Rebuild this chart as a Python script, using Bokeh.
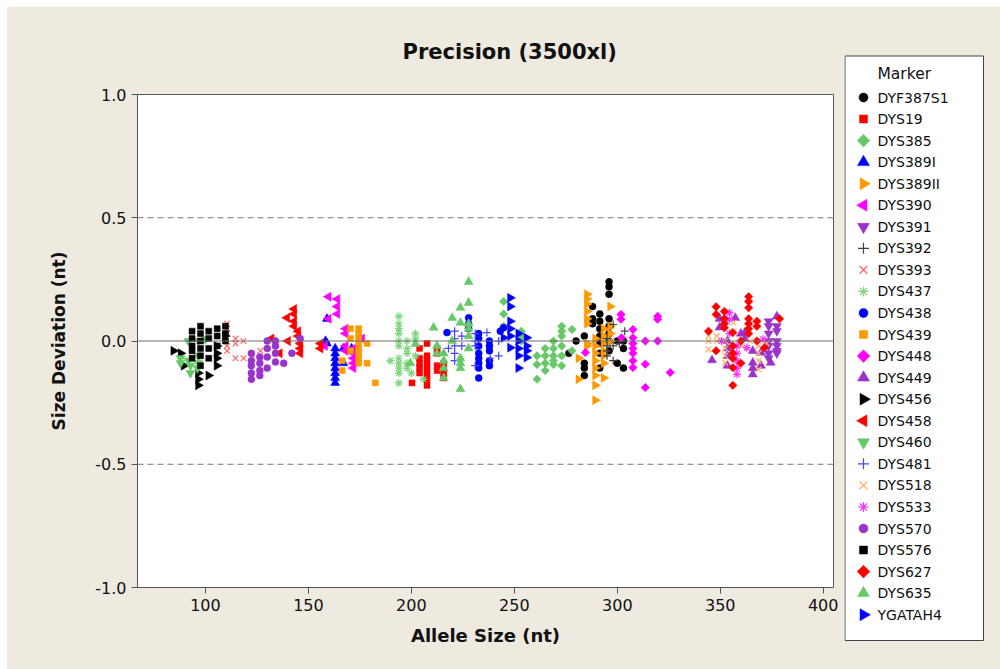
import math
from bokeh.plotting import figure
from bokeh.layouts import row
from bokeh.models import Span, FixedTicker, Title, ColumnDataSource, Range1d
from bokeh.core.properties import value
from bokeh.embed import file_html
from bokeh.resources import INLINE

# Allele size (nt) and size deviation (nt) per Y-STR marker
DYF387S1_x = [276.5, 280, 284, 284, 284, 284, 288, 288, 288, 291.5, 291.5, 291.5, 291.5, 291.5, 291.5, 291.5,
              296, 296, 296, 296, 296, 296, 296, 296, 300, 300, 303, 303, 303]
DYF387S1_y = [-0.05, 0.0, 0.02, -0.09, -0.11, -0.14, 0.14, 0.09, 0.07, 0.11, 0.08, 0.05, 0.02, -0.01, -0.05, -0.11,
              0.24, 0.22, 0.19, 0.09, 0.06, 0.03, 0.0, -0.04, 0.0, -0.09, 0.0, -0.03, -0.11]

DYS19_x = [200.3, 204, 204, 204, 204, 204, 207.6, 207.6, 207.6, 207.6, 207.6, 207.6, 207.6, 207.6,
           212.5, 212.5, 212.5, 212.5, 215.7, 215.7, 215.7, 215.7]
DYS19_y = [-0.17, -0.03, -0.07, -0.09, -0.11, -0.13, -0.01, -0.06, -0.08, -0.10, -0.12, -0.14, -0.16, -0.18,
           -0.03, -0.05, -0.10, -0.12, -0.09, -0.11, -0.13, -0.15]

DYS385_x = [244.8, 244.8, 244.8, 253.4, 253.4, 253.4, 261, 261, 261, 265, 265, 265, 265,
            269, 269, 269, 269, 269, 273, 273, 273, 273, 273, 273, 278, 278]
DYS385_y = [0.16, 0.11, 0.06, 0.04, 0.02, 0.0, -0.06, -0.095, -0.155, -0.03, -0.06, -0.09, -0.12,
            0.0, -0.03, -0.06, -0.08, -0.095, 0.06, 0.04, 0.02, -0.02, -0.06, -0.10, 0.047, -0.04]

DYS389I_x = [158.3, 159, 159, 163, 163, 163, 163, 163, 163, 163, 163, 167, 167, 171]
DYS389I_y = [0.0, 0.09, -0.01, -0.03, -0.05, -0.07, -0.09, -0.11, -0.13, -0.15, -0.17, -0.03, -0.09, -0.03]

DYS389II_x = [285.3, 285.3, 285.3, 285.3, 285.3, 285.3, 285.3, 285.3, 281.2, 281.2,
              289.3, 289.3, 289.3, 289.3, 289.3, 289.3, 289.3, 289.3,
              293.4, 293.4, 293.4, 293.4, 293.4, 293.4, 293.4, 296.6, 296.6, 296.6, 296.6]
DYS389II_y = [0.19, 0.17, 0.15, 0.12, 0.09, 0.07, -0.01, -0.02, -0.07, -0.155,
              0.01, -0.02, -0.05, -0.08, -0.11, -0.14, -0.18, -0.24,
              0.05, 0.02, -0.01, -0.04, -0.06, -0.09, -0.15, 0.14, 0.06, 0.03, 0.0]

DYS390_x = [159.7, 164, 164, 164, 159.7, 168, 168, 168, 168, 171.8, 171.8, 171.8, 171.8, 171.8, 176, 158]
DYS390_y = [0.18, 0.17, 0.14, 0.11, 0.09, 0.05, 0.03, -0.02, -0.04, -0.03, -0.05, -0.07, -0.09, -0.11, 0.01, -0.02]

DYS391_x = [373.5, 373.5, 373.5, 377.5, 377.5, 373.5, 373.5, 373.5, 373.5, 377.5, 377.5, 377.5, 377.5]
DYS391_y = [0.08, 0.06, 0.03, 0.06, 0.04, 0.0, -0.02, -0.05, -0.07, 0.0, -0.02, -0.04, -0.05]

DYS392_x = [295, 295, 295, 295, 298, 298, 298, 301, 303.6]
DYS392_y = [0.01, -0.02, -0.04, -0.06, 0.067, -0.02, -0.08, -0.01, 0.04]

DYS393_x = [110.5, 110.5, 110.5, 110.5, 110.5, 114.6, 114.6, 114.6, 118.5, 118.5, 122.6, 126.7]
DYS393_y = [0.07, 0.05, 0.03, -0.02, -0.04, 0.01, -0.01, -0.07, 0.0, -0.07, -0.07, -0.04]

DYS437_x = [193.9, 193.9, 193.9, 193.9, 193.9, 193.9, 193.9, 193.9, 193.9, 193.9, 193.9,
            189.8, 197.9, 197.9, 197.9, 197.9, 197.9, 202, 202, 202, 200, 205.8]
DYS437_y = [0.10, 0.07, 0.05, 0.03, 0.0, -0.02, -0.07, -0.09, -0.11, -0.13, -0.17,
            -0.08, 0.0, -0.03, -0.05, -0.09, -0.11, 0.03, 0.01, -0.06, -0.13, -0.155]

DYS438_x = [217.3, 227.8, 227.8, 227.8, 232.7, 232.7, 232.7, 232.7, 232.7, 232.7, 232.7, 232.7,
            237.9, 237.9, 237.9, 237.9, 237.9, 243.2, 244.8]
DYS438_y = [0.034, 0.094, 0.07, 0.05, 0.03, 0.01, -0.02, -0.05, -0.07, -0.09, -0.11, -0.15,
            0.0, -0.02, -0.04, -0.08, -0.10, 0.04, 0.054]

DYS439_x = [170.4, 170.4, 170.4, 174.4, 174.4, 174.4, 174.4, 174.4, 174.4, 174.4, 174.4,
            178.5, 178.5, 166.4, 166.4, 182.5]
DYS439_y = [0.05, 0.01, -0.04, 0.05, 0.03, 0.01, -0.01, -0.03, -0.05, -0.07, -0.09,
            -0.01, -0.09, -0.08, -0.12, -0.17]

DYS448_x = [301.8, 301.8, 307.6, 307.6, 307.6, 307.6, 307.6, 307.6, 307.6, 313.6, 313.6, 313.6,
            319.6, 319.6, 319.6, 325.7, 284.5, 302]
DYS448_y = [0.108, 0.088, 0.047, 0.013, -0.01, -0.03, -0.05, -0.08, -0.108, 0.0, -0.094, -0.189,
            0.10, 0.088, 0.0, -0.128, -0.047, 0.013]

DYS449_x = [349.7, 349.7, 346, 357.3, 353.5, 353.5, 353.5, 353.5, 362, 362, 365.8, 365.8, 365.8, 365.8,
            369.8, 369.8, 374.5, 377.5, 360]
DYS449_y = [0.09, 0.055, -0.078, 0.094, 0.0, -0.03, -0.06, -0.10, 0.035, 0.01, -0.04, -0.088, -0.11, -0.135,
            -0.047, -0.10, -0.088, 0.10, 0.03]

DYS456_x = [84.5, 88, 89.5, 96.5, 96.5, 96.5, 101.5, 105.5, 105.5, 105.5, 105.5, 109.5]
DYS456_y = [-0.04, -0.05, -0.10, -0.13, -0.155, -0.18, -0.14, -0.10, -0.07, -0.05, -0.02, 0.02]

DYS458_x = [139.6, 143, 143, 143, 143, 145, 145, 146, 146, 146, 140, 136, 132, 155.8, 155.8]
DYS458_y = [0.094, 0.13, 0.11, 0.08, 0.06, 0.04, 0.02, -0.01, -0.03, -0.05, 0.0, -0.05, 0.01, -0.01, -0.03]

DYS460_x = [87.9, 87.9, 91.7, 92.7, 92.7, 96.1, 91.7, 96.6, 100, 96.6, 96.6]
DYS460_y = [-0.07, -0.09, -0.08, -0.10, -0.13, -0.11, 0.0, 0.0, 0.008, -0.06, -0.09]

DYS481_x = [221, 221, 221, 221, 221, 224.5, 224.5, 231, 231, 231, 231, 236.7, 238.3, 242.4, 242.4, 218]
DYS481_y = [0.04, 0.01, -0.02, -0.05, -0.08, 0.02, -0.02, 0.03, 0.0, -0.02, -0.10, 0.034, -0.07, 0.0, -0.06, -0.03]

DYS518_x = [344.3, 344.3, 344.3, 348.3, 348.3, 352.4, 352.4, 352.4, 352.4, 356.5, 356.5,
            360.5, 364.5, 368.6, 368.6, 368.6, 368.6, 372.5]
DYS518_y = [0.02, 0.0, -0.034, 0.02, 0.0, 0.0, -0.03, -0.06, -0.088, 0.074, 0.04,
            -0.02, 0.0, -0.02, -0.05, -0.08, -0.115, -0.01]

DYS533_x = [354.5, 354.5, 354.5, 358.1, 358.1, 358.1, 358.1, 358.1, 350.6, 362.9, 370.8]
DYS533_y = [0.115, 0.088, 0.03, -0.02, -0.05, -0.08, -0.11, -0.135, 0.0, -0.027, 0.007]

DYS570_x = [122.3, 122.3, 122.3, 122.3, 122.3, 126.4, 126.4, 126.4, 126.4, 130, 130, 130, 130,
            134, 134, 134, 134, 138, 142, 146]
DYS570_y = [-0.05, -0.08, -0.10, -0.13, -0.155, -0.065, -0.09, -0.12, -0.14, 0.0, -0.03, -0.065, -0.11,
            0.0, -0.02, -0.05, -0.085, -0.09, -0.05, 0.01]

DYS576_x = [93.5, 93.5, 93.5, 93.5, 93.5, 97.6, 97.6, 97.6, 97.6, 97.6, 97.6,
            101.6, 101.6, 101.6, 101.6, 105.7, 105.7, 105.7, 109.7, 109.7, 109.7]
DYS576_y = [0.04, 0.01, -0.02, -0.04, -0.07, 0.06, 0.03, 0.0, -0.03, -0.06, -0.10,
            0.04, 0.01, -0.03, -0.07, 0.05, 0.02, -0.02, 0.06, 0.03, 0.0]

DYS627_x = [348, 348, 344.3, 348, 352, 352, 352, 352, 356.1, 356.1, 356.1, 356.1, 356.1, 356.1, 360, 360,
            363.8, 363.8, 363.8, 363.8, 363.8, 363.8, 363.8, 367.8, 367.8, 367.8, 371.4, 378.8]
DYS627_y = [0.139, 0.108, 0.04, -0.04, 0.12, 0.09, 0.07, 0.054, 0.034, -0.02, -0.05, -0.07, -0.108, -0.18, 0.0, -0.09,
            0.18, 0.16, 0.135, 0.09, 0.07, 0.05, 0.03, 0.08, 0.06, 0.0, -0.027, 0.09]

DYS635_x = [227.8, 223.8, 227.8, 219.8, 223.8, 227.8, 227.8, 227.8, 219.8, 227.8, 223.8, 223.8, 223.8,
            215.7, 215.7, 215.7, 215.7, 212.4, 212.4, 223.8, 210.8, 202, 199.5]
DYS635_y = [0.24, 0.135, 0.155, 0.094, 0.074, 0.07, 0.05, 0.02, 0.0, -0.03, -0.07, -0.09, -0.11,
            -0.05, -0.08, -0.11, -0.15, -0.02, -0.05, -0.195, 0.054, -0.012, -0.09]

YGATAH4_x = [248, 248, 248, 248, 248, 248, 252, 252, 252, 252, 252, 256, 256, 256, 256, 244.8]
YGATAH4_y = [0.175, 0.14, 0.08, 0.05, 0.02, -0.027, 0.03, 0.0, -0.03, -0.06, -0.11, 0.013, -0.02, -0.04, -0.067, 0.013]

RIGHT = -math.pi / 2
LEFT = math.pi / 2
TILT = math.pi / 4

# name, xs, ys, marker, colour, rotation, plot size, key size
series = [
    ("DYF387S1", DYF387S1_x, DYF387S1_y, "circle", "#000000", 0, 7, 9),
    ("DYS19", DYS19_x, DYS19_y, "square", "#FF0000", 0, 6, 8),
    ("DYS385", DYS385_x, DYS385_y, "square", "#66C866", TILT, 6, 9),
    ("DYS389I", DYS389I_x, DYS389I_y, "triangle", "#0000FF", 0, 9, 12),
    ("DYS389II", DYS389II_x, DYS389II_y, "triangle", "#FF9900", RIGHT, 9, 12),
    ("DYS390", DYS390_x, DYS390_y, "triangle", "#FF00FF", LEFT, 9, 12),
    ("DYS391", DYS391_x, DYS391_y, "inverted_triangle", "#9933CC", 0, 9, 12),
    ("DYS392", DYS392_x, DYS392_y, "cross", "#404040", 0, 8, 11),
    ("DYS393", DYS393_x, DYS393_y, "x", "#FF6666", 0, 8, 11),
    ("DYS437", DYS437_x, DYS437_y, "asterisk", "#7ED67E", 0, 8, 10),
    ("DYS438", DYS438_x, DYS438_y, "circle", "#0000FF", 0, 7, 9),
    ("DYS439", DYS439_x, DYS439_y, "square", "#FF9900", 0, 6, 8),
    ("DYS448", DYS448_x, DYS448_y, "square", "#FF00FF", TILT, 6, 9),
    ("DYS449", DYS449_x, DYS449_y, "triangle", "#9933CC", 0, 9, 12),
    ("DYS456", DYS456_x, DYS456_y, "triangle", "#000000", RIGHT, 9, 12),
    ("DYS458", DYS458_x, DYS458_y, "triangle", "#FF0000", LEFT, 9, 12),
    ("DYS460", DYS460_x, DYS460_y, "inverted_triangle", "#66C866", 0, 9, 12),
    ("DYS481", DYS481_x, DYS481_y, "cross", "#4444FF", 0, 8, 11),
    ("DYS518", DYS518_x, DYS518_y, "x", "#FFB060", 0, 8, 11),
    ("DYS533", DYS533_x, DYS533_y, "asterisk", "#FF33FF", 0, 8, 10),
    ("DYS570", DYS570_x, DYS570_y, "circle", "#9933CC", 0, 7, 9),
    ("DYS576", DYS576_x, DYS576_y, "square", "#000000", 0, 6, 8),
    ("DYS627", DYS627_x, DYS627_y, "square", "#FF0000", TILT, 6, 9),
    ("DYS635", DYS635_x, DYS635_y, "triangle", "#66C866", 0, 9, 12),
    ("YGATAH4", YGATAH4_x, YGATAH4_y, "triangle", "#0000FF", RIGHT, 9, 12),
]

FONT = "DejaVu Sans"
BG = "#EEEAE0"
THIN = ("cross", "x", "asterisk")

# ---- main scatter panel ----
p = figure(width=837, height=662, x_range=(67, 405), y_range=(-1, 1),
           output_backend="svg", toolbar_location=None,
           min_border_left=130, min_border_right=11, min_border_top=86, min_border_bottom=82,
           background_fill_color="white", border_fill_color=BG, margin=0)
p.frame_align = False

p.xgrid.visible = False
p.ygrid.visible = False
p.outline_line_color = "#5A5A5A"
p.outline_line_width = 1

for yv in (0.5, -0.5):
    p.add_layout(Span(location=yv, dimension="width", line_color="#777777", line_dash="6 4", line_width=1))
p.add_layout(Span(location=0, dimension="width", line_color="#6E6E6E", line_width=1.2))

for name, xs, ys, marker, color, ang, size, _ in series:
    src = ColumnDataSource(dict(x=xs, y=ys))
    p.scatter("x", "y", source=src, marker=marker, size=size, angle=ang,
              fill_color=color, line_color=color, line_width=1.2 if marker in THIN else 0.5)

for ax in (p.xaxis[0], p.yaxis[0]):
    ax.axis_line_color = "#555555"
    ax.major_tick_line_color = "#555555"
    ax.major_tick_out = 6
    ax.major_tick_in = 0
    ax.minor_tick_line_color = None
    ax.major_label_text_font = FONT
    ax.major_label_text_font_size = "16px"
    ax.major_label_text_color = "#111111"
    ax.axis_label_text_font = FONT
    ax.axis_label_text_font_style = "bold"
    ax.axis_label_text_color = "#111111"

p.xaxis.axis_label_text_font_size = "18px"
p.yaxis.axis_label_text_font_size = "17px"
p.xaxis.ticker = FixedTicker(ticks=[100, 150, 200, 250, 300, 350, 400])
p.yaxis.ticker = FixedTicker(ticks=[-1.0, -0.5, 0.0, 0.5, 1.0])
p.yaxis.major_label_overrides = {-1.0: "-1.0", -0.5: "-0.5", 0.0: "0.0", 0.5: "0.5", 1.0: "1.0"}
p.xaxis.axis_label = "Allele Size (nt)"
p.yaxis.axis_label = "Size Deviation (nt)"
p.yaxis.axis_label_standoff = 23
p.xaxis.axis_label_standoff = 11

p.title = Title(text="Precision (3500xl)", align="left", offset=265, standoff=61,
                text_font=FONT, text_font_size="21px", text_font_style="bold", text_color="#111111")

# ---- marker key panel (page-pixel coordinates, y downwards) ----
KEY_LEFT, KEY_TOP = 844, 7
key = figure(width=156, height=662, x_range=Range1d(KEY_LEFT, KEY_LEFT + 156),
             y_range=Range1d(KEY_TOP + 662, KEY_TOP),
             output_backend="svg", toolbar_location=None,
             x_axis_location=None, y_axis_location=None,
             min_border_left=0, min_border_right=0, min_border_top=0, min_border_bottom=0,
             background_fill_color=BG, border_fill_color=BG, margin=0)
key.frame_align = False
key.xgrid.visible = False
key.ygrid.visible = False
key.outline_line_color = None

box_l, box_r, box_t, box_b = 844.5, 983, 55.5, 640
key.quad(left=[box_l], right=[box_r], top=[box_t], bottom=[box_b],
         fill_color="white", line_color="#444444", line_width=1)

row_step = 21.55
first_row = 97
glyph_x, text_x = 863, 877
key.text(x=[text_x], y=[73], text=["Marker"], text_font=value(FONT), text_font_size="15.5px",
         text_baseline="middle", text_align="left", text_color="#111111")
for i, (name, _, _, marker, color, ang, _, ksize) in enumerate(series):
    yy = first_row + i * row_step
    key.scatter(x=[glyph_x], y=[yy], marker=marker, size=ksize, angle=ang,
                fill_color=color, line_color=color, line_width=1.2 if marker in THIN else 0.5)
    key.text(x=[text_x], y=[yy], text=[name], text_font=value(FONT), text_font_size="14px",
             text_baseline="middle", text_align="left", text_color="#111111")

layout = row(p, key, spacing=0, margin=(7, 0, 0, 7))
layout.styles = {"background-color": BG}
open("out.html", "w").write(file_html(layout, INLINE))
